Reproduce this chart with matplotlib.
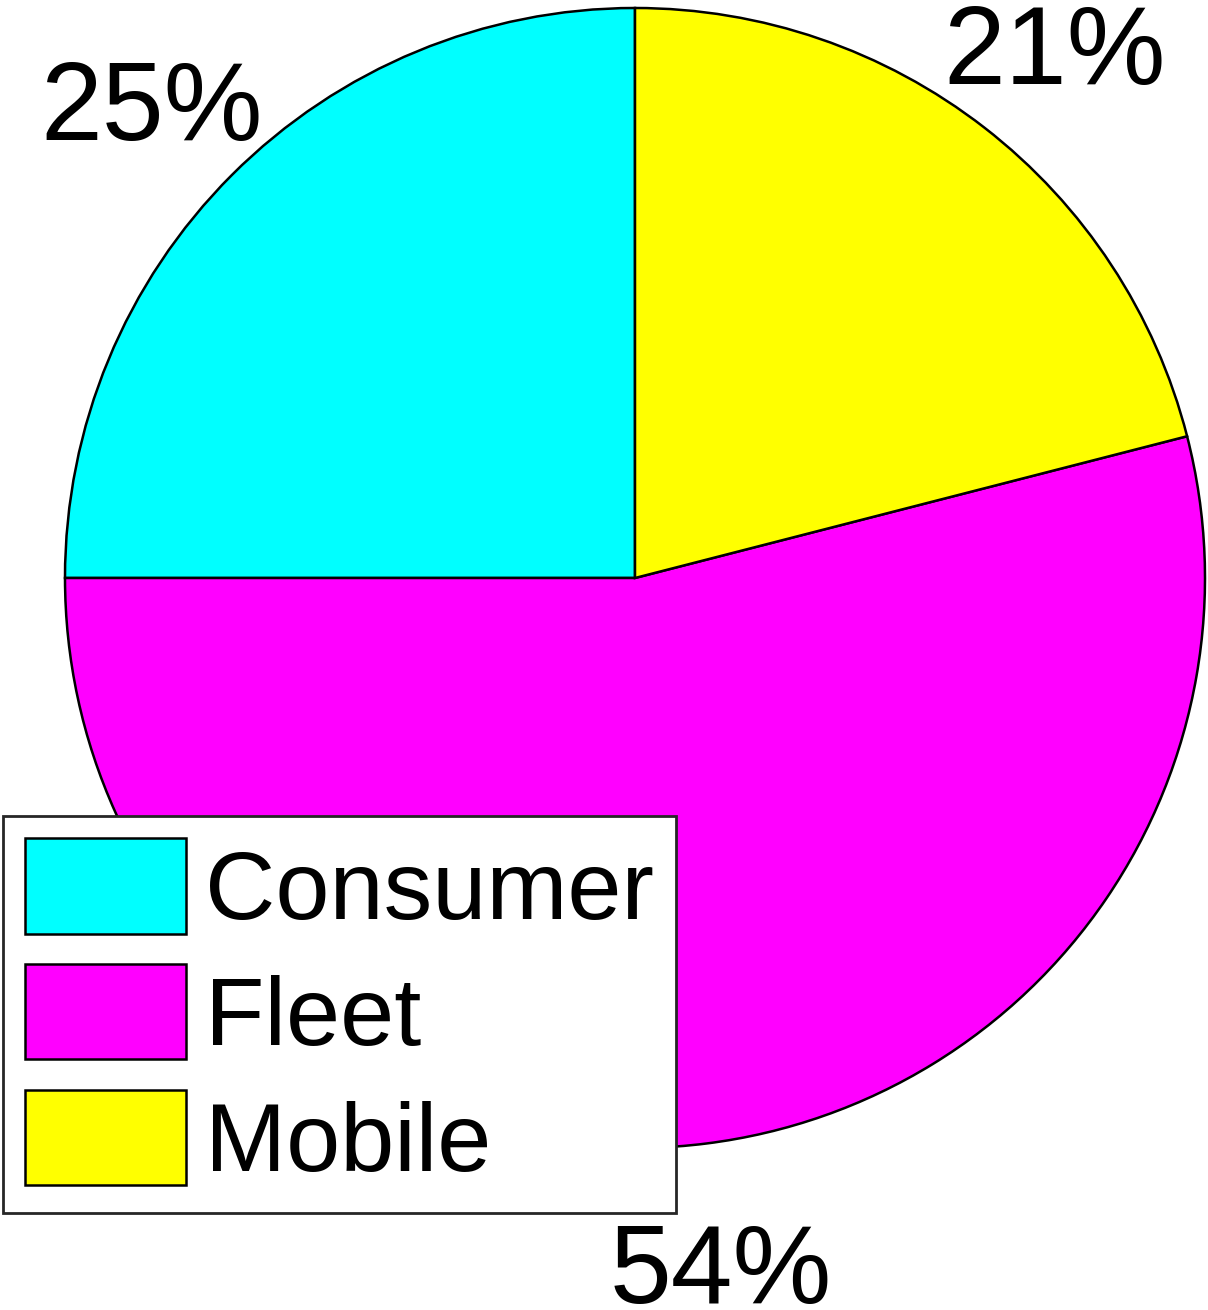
import numpy as np
import matplotlib.pyplot as plt

plt.rcParams['font.family'] = ['Liberation Sans', 'DejaVu Sans']

categories = ['Consumer', 'Fleet', 'Mobile']
shares = [25, 54, 21]
colors = ['#00ffff', '#ff00ff', '#ffff00']
pct_labels = ['25%', '54%', '21%']

W, H = 1208, 1310
fig = plt.figure(figsize=(W / 100, H / 100), dpi=100)

# pie centre (635, 578) px, radius 570 px
cx, cy, r = 635, 578, 570
ax = fig.add_axes([(cx - r) / W, (H - cy - r) / H, 2 * r / W, 2 * r / H])

wedges, texts = ax.pie(shares, colors=colors, labels=pct_labels,
                       startangle=90, counterclock=True, labeldistance=1.2,
                       wedgeprops=dict(edgecolor='black', linewidth=1.8),
                       textprops=dict(fontsize=80))
for t in texts:
    t.set_ha('center')
    t.set_va('center')
    x, y = t.get_position()
    t.set_position((x, y - 0.03))
ax.set_xlim(-1, 1)
ax.set_ylim(-1, 1)

leg = fig.legend(wedges, categories, loc='lower left',
                 bbox_to_anchor=(3 / W, (H - 1213) / H),
                 fontsize=70, frameon=True, fancybox=False, framealpha=1,
                 handlelength=1.65, handleheight=1.13,
                 labelspacing=0.26, handletextpad=0.2,
                 borderpad=0.23, borderaxespad=0)
leg.get_frame().set_edgecolor('#262626')
leg.get_frame().set_linewidth(2)

fig.savefig('out.png', dpi=100)
